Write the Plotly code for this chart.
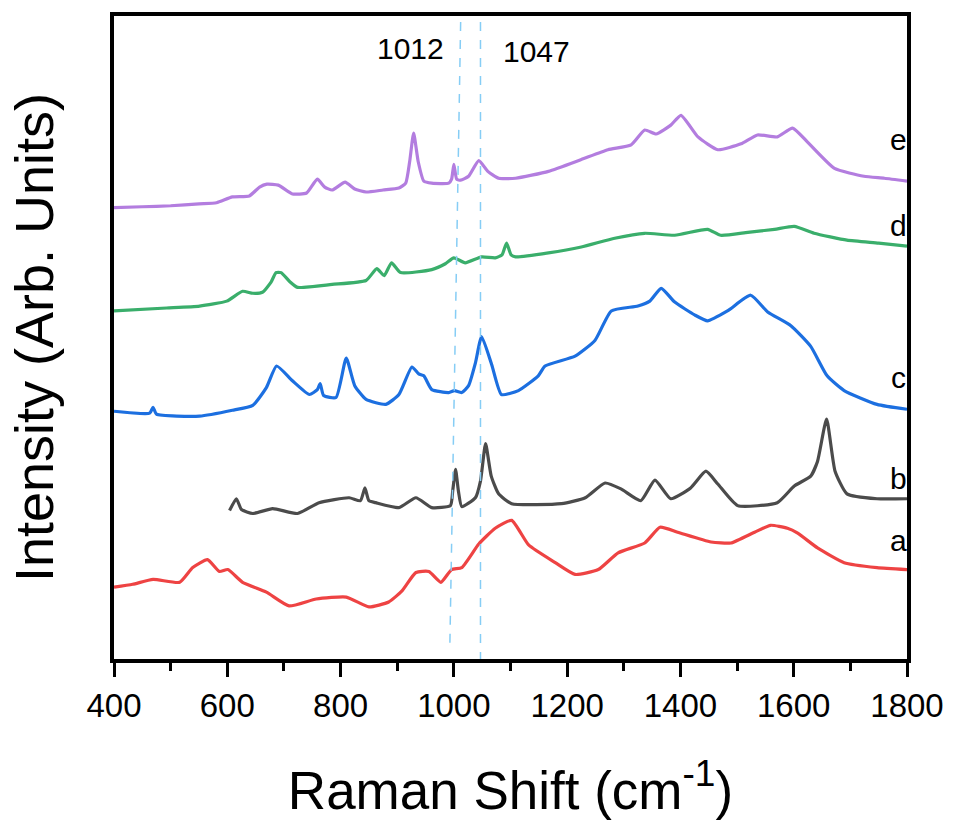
import plotly.graph_objects as go

# Raman shift (cm-1) / intensity (arb. units)
a_x = [400, 433, 469, 516, 539, 565, 586, 601, 627, 669, 709, 757, 810, 850, 885, 908, 933, 956, 977, 996,
       1014, 1044, 1073, 1102, 1132, 1179, 1214, 1255, 1290, 1337, 1364, 1395, 1454, 1489, 1531, 1559, 1589,
       1607, 1642, 1689, 1747, 1800]
a_y = [73, 76, 81, 78, 93, 101, 89, 91, 78, 68, 54, 61, 63, 53, 58, 69, 88, 89, 78, 91,
       93, 117, 133, 141, 116, 98, 86, 91, 108, 118, 134, 129, 119, 118, 129, 136, 133,
       128, 113, 98, 93, 91]

b_x = [604, 616, 625, 645, 680, 724, 762, 815, 835, 843, 850, 862, 903, 933, 961, 994, 998, 1003, 1008, 1014,
       1038, 1047, 1056, 1066, 1079, 1102, 1190, 1232, 1267, 1295, 1330, 1355, 1383, 1418, 1445, 1466, 1501,
       1571, 1601, 1630, 1642, 1658, 1673, 1694, 1747, 1800]
b_y = [151, 163, 152, 148, 153, 148, 159, 164, 161, 174, 161, 159, 154, 164, 154, 156, 171, 193, 171, 155,
       164, 181, 219, 186, 168, 158, 158, 164, 179, 173, 161, 182, 163, 174, 191, 178, 156,
       159, 176, 186, 201, 244, 191, 168, 163, 163]

c_x = [400, 463, 469, 475, 551, 609, 645, 669, 687, 715, 745, 759, 764, 770, 792, 810, 825, 845, 880, 903,
       926, 938, 947, 961, 991, 1001, 1014, 1026, 1038, 1049, 1067, 1084, 1114, 1149, 1161, 1214, 1249, 1278,
       1325, 1346, 1366, 1390, 1425, 1448, 1483, 1524, 1554, 1595, 1630, 1659, 1689, 1747, 1800]
c_y = [252, 250, 256, 249, 247, 253, 258, 276, 298, 283, 269, 274, 280, 268, 266, 306, 278, 264, 259, 269,
       297, 290, 288, 274, 271, 273, 271, 278, 301, 328, 299, 269, 273, 288, 298, 308, 324, 354,
       359, 364, 377, 363, 350, 344, 354, 370, 353, 339, 318, 288, 273, 259, 254]

d_x = [400, 493, 551, 599, 627, 645, 662, 677, 686, 695, 710, 724, 785, 845, 864, 877, 890, 906, 961, 985,
       1000, 1020, 1049, 1073, 1085, 1093, 1101, 1109, 1167, 1225, 1284, 1337, 1390, 1448, 1471, 1519, 1566,
       1601, 1636, 1694, 1750, 1800]
d_y = [354, 357, 359, 364, 374, 372, 373, 383, 393, 393, 384, 378, 381, 385, 397, 390, 403, 393, 396, 402,
       408, 403, 409, 408, 411, 423, 411, 409, 413, 419, 428, 433, 431, 437, 431, 434, 437,
       440, 433, 426, 423, 420]

e_x = [400, 450, 500, 550, 581, 609, 639, 657, 670, 690, 715, 740, 759, 772, 785, 808, 825, 845, 875, 903,
       915, 922, 929, 937, 947, 961, 991, 996, 1000, 1005, 1012, 1026, 1044, 1060, 1079, 1109, 1167, 1225,
       1272, 1313, 1337, 1357, 1383, 1401, 1431, 1466, 1507, 1536, 1571, 1598, 1624, 1672, 1724, 1760, 1800]
e_y = [459, 460, 461, 463, 464, 470, 471, 480, 483, 482, 473, 474, 488, 480, 477, 485, 478, 475, 477, 479,
       484, 506, 535, 506, 486, 484, 484, 488, 503, 488, 487, 491, 507, 496, 489, 489, 496, 508,
       518, 523, 538, 534, 543, 553, 531, 518, 524, 533, 531, 540, 526, 499, 491, 489, 486]

series = [
    ("a", a_x, a_y, "#ee4343"),
    ("b", b_x, b_y, "#4b4b4b"),
    ("c", c_x, c_y, "#1c6fe0"),
    ("d", d_x, d_y, "#3aae6b"),
    ("e", e_x, e_y, "#b37ddf"),
]
label_pos = {"a": 121, "b": 184, "c": 286, "d": 441, "e": 528}

marker_lines = [  # (label, x at top, x at bottom, y bottom, label x, label y)
    ("1012", 1012, 993, 16, 924, 621),
    ("1047", 1047, 1047, 0, 1146, 618),
]

FONT = "Liberation Sans, Arial, sans-serif"

fig = go.Figure()
for name, xs, ys, col in series:
    fig.add_trace(go.Scatter(x=xs, y=ys, mode="lines", name=name,
                             line=dict(color=col, width=3.2, shape="spline", smoothing=0.5),
                             showlegend=False))

for name, *_ in series:
    fig.add_annotation(x=1785, y=label_pos[name], text=name, showarrow=False,
                       font=dict(size=30, color="black", family=FONT),
                       xref="x", yref="y")

for lab, xt, xb, yb, lx, ly in marker_lines:
    fig.add_shape(type="line", x0=xt, x1=xb, y0=648, y1=yb, xref="x", yref="y",
                  line=dict(color="#86cdf5", width=1.5, dash="dash"))
    fig.add_annotation(x=lx, y=ly, text=lab, showarrow=False, xref="x", yref="y",
                       font=dict(size=30, color="black", family=FONT))

fig.update_layout(
    width=956, height=823,
    margin=dict(l=114, r=46, t=12, b=157),
    paper_bgcolor="white", plot_bgcolor="white",
    xaxis=dict(
        range=[400, 1800], showgrid=False, zeroline=False,
        showline=True, linecolor="black", linewidth=4, mirror=True,
        ticks="outside", ticklen=14, tickwidth=3, tickcolor="black",
        tickvals=[400, 600, 800, 1000, 1200, 1400, 1600, 1800],
        minor=dict(ticks="outside", ticklen=8, tickwidth=3, tickcolor="black", dtick=100, tick0=400),
        tickfont=dict(size=33, color="black", family=FONT),
        title=dict(text="Raman Shift (cm<sup>-1</sup>)", standoff=50,
                   font=dict(size=53, color="black", family=FONT)),
    ),
    yaxis=dict(
        range=[0, 654], showgrid=False, zeroline=False, showticklabels=False,
        showline=True, linecolor="black", linewidth=4, mirror=True, ticks="",
        title=dict(text="Intensity (Arb. Units)", standoff=40,
                   font=dict(size=54, color="black", family=FONT)),
    ),
)

fig.write_html("out.html")
